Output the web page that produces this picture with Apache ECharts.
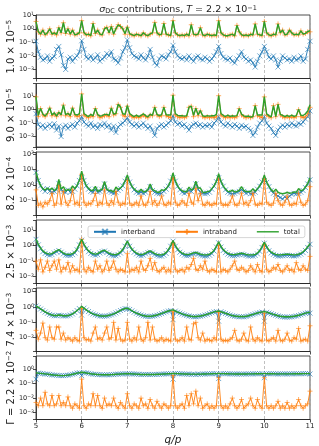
<!DOCTYPE html>
<html><head><meta charset="utf-8">
<script src="https://cdn.jsdelivr.net/npm/echarts@6/dist/echarts.min.js"></script>
<style>html,body{margin:0;padding:0;background:#fff}#c{width:319px;height:446px}</style>
</head><body><div id="c"></div>
<script>
// x positions q/p
const qp = [5.00,5.05,5.10,5.15,5.20,5.25,5.30,5.35,5.40,5.45,5.50,5.55,5.60,5.65,5.70,5.75,5.80,5.85,5.90,5.95,
6.00,6.05,6.10,6.15,6.20,6.25,6.30,6.35,6.40,6.45,6.50,6.55,6.60,6.65,6.70,6.75,6.80,6.85,6.90,6.95,
7.00,7.05,7.10,7.15,7.20,7.25,7.30,7.35,7.40,7.45,7.50,7.55,7.60,7.65,7.70,7.75,7.80,7.85,7.90,7.95,
8.00,8.05,8.10,8.15,8.20,8.25,8.30,8.35,8.40,8.45,8.50,8.55,8.60,8.65,8.70,8.75,8.80,8.85,8.90,8.95,
9.00,9.05,9.10,9.15,9.20,9.25,9.30,9.35,9.40,9.45,9.50,9.55,9.60,9.65,9.70,9.75,9.80,9.85,9.90,9.95,
10.00,10.05,10.10,10.15,10.20,10.25,10.30,10.35,10.40,10.45,10.50,10.55,10.60,10.65,10.70,10.75,10.80,10.85,10.90,10.95,
11.00];
const xTicks = [5,6,7,8,9,10,11];
const seriesNames = ['interband','intraband','total'];
const gammaMant = ['1.0 × 10','9.0 × 10','8.2 × 10','2.5 × 10','7.4 × 10','Γ = 2.2 × 10'];
const gammaExp = ['−5','−5','−4','−3','−3','−2'];

// Panel 1: Γ = 1.0e-5
const inter1 = [0.12,0.02,0.008,0.005,0.006,0.01,0.004,0.007,0.009,0.03,0.05,0.012,0.002,0.001,0.006,0.008,0.004,0.007,0.01,0.02,
0.13,0.03,0.008,0.006,0.01,0.005,0.007,0.012,0.004,0.006,0.008,0.015,0.01,0.02,0.006,0.005,0.003,0.007,0.02,0.04,
0.15,0.04,0.015,0.01,0.008,0.006,0.012,0.007,0.005,0.01,0.03,0.008,0.003,0.002,0.006,0.01,0.008,0.006,0.012,0.02,
0.06,0.02,0.01,0.007,0.006,0.008,0.005,0.01,0.006,0.004,0.008,0.01,0.006,0.005,0.008,0.006,0.004,0.006,0.01,0.02,
0.05,0.015,0.008,0.006,0.005,0.007,0.004,0.003,0.006,0.01,0.02,0.008,0.006,0.004,0.005,0.003,0.0015,0.004,0.01,0.02,
0.05,0.02,0.008,0.006,0.01,0.005,0.0015,0.004,0.01,0.007,0.005,0.006,0.004,0.008,0.005,0.006,0.01,0.004,0.006,0.03,
0.12];
const intra1 = [3.5,0.6,0.4,0.8,0.35,0.5,1.0,0.4,0.5,0.35,1.2,0.5,2.8,0.45,1.0,0.4,0.8,0.35,0.4,0.5,
4.0,0.5,0.35,0.4,0.3,2.5,0.45,0.8,0.4,0.35,1.0,1.3,0.5,1.5,0.4,1.0,2.0,1.5,1.0,0.4,
1.3,0.4,0.35,0.3,0.4,0.35,0.3,0.5,0.35,0.3,0.4,0.5,3.0,0.5,0.35,0.4,2.5,0.4,0.35,0.3,
4.0,0.5,0.35,0.3,0.35,0.3,0.4,0.3,2.0,0.4,0.35,0.4,1.2,0.35,0.3,0.4,0.35,0.3,0.35,0.3,
4.0,0.5,0.35,0.3,0.3,0.35,0.4,0.3,1.8,0.6,0.35,0.3,0.35,0.3,0.4,0.35,2.3,0.4,0.35,0.3,
3.5,0.5,0.35,0.3,0.4,0.35,2.3,0.5,0.8,0.35,0.4,0.8,0.5,0.35,0.4,0.35,0.7,0.4,0.45,0.6,
0.6];
const total1 = [3.6,0.62,0.41,0.81,0.36,0.51,1.0,0.41,0.51,0.38,1.25,0.51,2.8,0.45,1.0,0.41,0.8,0.36,0.41,0.52,
4.1,0.53,0.36,0.41,0.31,2.5,0.46,0.81,0.4,0.36,1.0,1.3,0.51,1.5,0.41,1.0,2.0,1.5,1.0,0.44,
1.45,0.44,0.37,0.31,0.41,0.36,0.31,0.51,0.36,0.31,0.43,0.51,3.0,0.5,0.36,0.41,2.5,0.41,0.36,0.32,
4.1,0.52,0.36,0.31,0.36,0.31,0.41,0.31,2.0,0.4,0.36,0.41,1.2,0.36,0.31,0.41,0.35,0.31,0.36,0.32,
4.0,0.52,0.36,0.31,0.31,0.36,0.4,0.3,1.8,0.61,0.37,0.31,0.36,0.3,0.4,0.35,2.3,0.4,0.36,0.32,
3.6,0.52,0.36,0.31,0.41,0.36,2.3,0.5,0.81,0.36,0.41,0.81,0.5,0.36,0.41,0.36,0.71,0.4,0.46,0.63,
0.72];

// Panel 2: Γ = 9.0e-5
const inter2 = [0.5,0.08,0.05,0.07,0.04,0.06,0.08,0.05,0.09,0.03,0.06,0.01,0.05,0.07,0.04,0.06,0.08,0.05,0.1,0.15,
0.3,0.12,0.08,0.06,0.1,0.05,0.07,0.04,0.08,0.06,0.1,0.05,0.07,0.03,0.06,0.02,0.05,0.08,0.1,0.15,
0.25,0.12,0.08,0.06,0.09,0.05,0.07,0.1,0.06,0.04,0.06,0.03,0.012,0.04,0.06,0.08,0.05,0.07,0.1,0.15,
0.35,0.12,0.08,0.1,0.06,0.08,0.05,0.03,0.06,0.08,0.1,0.06,0.08,0.05,0.07,0.06,0.08,0.05,0.1,0.15,
0.3,0.12,0.08,0.06,0.1,0.07,0.05,0.08,0.06,0.04,0.07,0.05,0.06,0.04,0.03,0.012,0.02,0.05,0.1,0.15,
0.3,0.1,0.06,0.04,0.02,0.012,0.03,0.05,0.07,0.05,0.08,0.06,0.1,0.07,0.06,0.1,0.08,0.12,0.2,0.3,
0.8];
const intra2 = [9.0,0.3,1.2,0.4,0.3,0.5,1.3,0.35,0.5,0.3,0.6,0.4,2.2,0.35,0.5,0.3,1.3,0.4,0.3,0.35,
15,0.4,0.3,0.25,0.35,0.3,1.2,0.4,0.25,0.3,0.35,0.4,0.3,1.3,0.4,0.5,2.5,1.5,0.4,0.3,
1.8,0.4,0.3,0.25,0.3,0.25,0.3,0.4,0.3,0.25,0.4,0.35,1.5,0.4,0.3,0.35,1.5,0.35,0.3,0.25,
12,0.4,0.3,0.25,0.3,0.25,0.3,1.5,1.8,0.3,1.2,0.35,0.8,0.3,0.25,0.3,0.25,0.3,0.25,0.3,
11,0.4,0.3,0.25,0.3,0.25,0.3,0.25,0.3,1.2,0.4,0.3,0.25,0.3,0.25,0.3,2.0,0.35,0.3,0.25,
9.0,0.4,0.3,0.25,2.0,0.3,2.5,0.4,0.3,0.25,0.3,0.25,0.3,0.25,0.3,1.0,0.3,0.25,0.3,0.5,
1.5];
const total2 = [9.5,0.38,1.25,0.47,0.34,0.56,1.38,0.4,0.59,0.33,0.66,0.41,2.25,0.42,0.54,0.36,1.38,0.45,0.4,0.5,
15.3,0.52,0.38,0.31,0.45,0.35,1.27,0.44,0.33,0.36,0.45,0.45,0.37,1.33,0.46,0.52,2.55,1.58,0.5,0.45,
2.05,0.52,0.38,0.31,0.39,0.3,0.37,0.5,0.36,0.29,0.46,0.38,1.51,0.44,0.36,0.43,1.55,0.42,0.4,0.4,
12.3,0.52,0.38,0.35,0.36,0.33,0.35,1.53,1.86,0.38,1.3,0.41,0.88,0.35,0.32,0.36,0.33,0.35,0.35,0.45,
11.3,0.52,0.38,0.31,0.4,0.32,0.35,0.33,0.36,1.24,0.47,0.35,0.31,0.34,0.28,0.31,2.02,0.4,0.4,0.4,
9.3,0.5,0.36,0.29,2.02,0.31,2.53,0.45,0.37,0.3,0.38,0.31,0.4,0.32,0.36,1.1,0.38,0.37,0.5,0.8,
2.3];

// Panel 3: Γ = 8.2e-4
const inter3 = [6.5,2.0,0.9,0.55,0.4,0.6,0.4,0.35,0.4,0.5,1.3,0.5,0.4,0.35,0.5,0.35,0.4,0.55,0.9,2.0,
3.0,2.0,0.9,0.55,0.4,0.35,0.55,0.35,0.4,0.5,1.2,0.5,0.4,0.35,0.3,0.35,0.45,0.6,0.9,1.8,
2.5,1.6,0.8,0.5,0.35,0.3,0.35,0.3,0.35,0.45,0.8,0.45,0.35,0.3,0.28,0.3,0.4,0.55,0.85,1.8,
3.0,1.8,0.85,0.5,0.35,0.3,0.35,0.45,0.4,0.55,1.2,0.55,0.35,0.3,0.28,0.3,0.35,0.55,0.85,1.7,
3.0,1.7,0.85,0.5,0.35,0.3,0.28,0.3,0.35,0.4,0.5,0.4,0.3,0.35,0.28,0.3,0.35,0.55,0.85,1.6,
2.0,1.5,0.8,0.45,0.3,0.25,0.2,0.16,0.13,0.18,0.13,0.2,0.26,0.3,0.28,0.3,0.35,0.45,0.7,1.2,
2.2];
const intra3 = [0.5,0.05,0.07,0.04,0.08,0.06,0.1,0.3,0.05,0.07,1.0,0.06,0.4,0.08,0.05,0.1,0.5,0.06,0.08,0.05,
5.0,0.08,0.05,0.07,0.06,0.1,0.3,0.05,0.08,0.06,0.5,0.07,0.05,0.1,0.06,0.4,0.08,0.05,0.07,0.06,
2.0,0.07,0.05,0.06,0.08,0.05,0.2,0.06,0.05,0.08,0.4,0.06,0.1,0.05,0.07,0.2,0.06,0.05,0.08,0.06,
3.0,0.08,0.05,0.06,0.1,0.07,0.05,0.3,0.08,0.06,0.6,0.1,0.3,0.06,0.05,0.08,0.06,0.05,0.07,0.06,
2.5,0.07,0.05,0.06,0.05,0.08,0.2,0.06,0.05,0.07,0.3,0.06,0.08,0.05,0.1,0.3,0.06,0.05,0.07,0.06,
2.5,0.08,0.06,0.05,0.07,0.3,0.1,0.06,0.05,0.08,0.2,0.06,0.05,0.07,0.06,0.3,0.08,0.05,0.06,0.1,
0.8];
const total3 = [7.0,2.05,0.97,0.59,0.48,0.66,0.5,0.65,0.45,0.57,2.3,0.56,0.8,0.43,0.55,0.45,0.9,0.61,0.98,2.05,
8.0,2.08,0.95,0.62,0.46,0.45,0.85,0.4,0.48,0.56,1.7,0.57,0.45,0.45,0.36,0.75,0.53,0.65,0.97,1.86,
4.5,1.67,0.85,0.56,0.43,0.35,0.55,0.36,0.4,0.53,1.2,0.51,0.45,0.35,0.35,0.5,0.46,0.6,0.93,1.86,
6.0,1.88,0.9,0.56,0.45,0.37,0.4,0.75,0.48,0.61,1.8,0.65,0.65,0.36,0.33,0.38,0.41,0.6,0.92,1.76,
5.5,1.77,0.9,0.56,0.4,0.38,0.48,0.36,0.4,0.47,0.8,0.46,0.38,0.4,0.38,0.6,0.41,0.6,0.92,1.66,
4.5,1.58,0.86,0.5,0.37,0.55,0.35,0.3,0.28,0.3,0.35,0.3,0.32,0.37,0.34,0.6,0.43,0.5,0.76,1.3,
3.0];

// Panel 4: Γ = 2.5e-3
const inter4 = [2.5,1.1,0.62,0.4,0.31,0.26,0.24,0.26,0.33,0.4,0.48,0.37,0.29,0.24,0.23,0.23,0.26,0.33,0.53,1.1,
2.2,1.1,0.62,0.4,0.31,0.26,0.24,0.26,0.33,0.4,0.44,0.35,0.28,0.24,0.22,0.22,0.26,0.33,0.48,0.9,
1.7,0.9,0.53,0.37,0.29,0.24,0.22,0.24,0.29,0.35,0.38,0.33,0.26,0.23,0.21,0.21,0.24,0.31,0.48,0.9,
1.9,0.9,0.53,0.37,0.29,0.24,0.22,0.23,0.26,0.29,0.31,0.28,0.24,0.22,0.21,0.21,0.24,0.3,0.44,0.8,
1.5,0.8,0.48,0.35,0.28,0.24,0.22,0.22,0.24,0.26,0.28,0.26,0.23,0.21,0.21,0.21,0.23,0.29,0.42,0.75,
1.4,0.75,0.46,0.33,0.27,0.23,0.21,0.21,0.22,0.23,0.24,0.23,0.22,0.21,0.22,0.24,0.28,0.35,0.48,0.75,
1.2];
const intra4 = [0.1,0.03,0.12,0.02,0.04,0.1,0.025,0.05,0.1,0.03,0.12,0.02,0.04,0.03,0.08,0.02,0.05,0.025,0.03,0.02,
2.5,0.03,0.02,0.04,0.025,0.02,0.1,0.03,0.05,0.02,0.03,0.1,0.025,0.04,0.1,0.03,0.02,0.03,0.025,0.02,
0.3,0.02,0.03,0.025,0.04,0.02,0.1,0.03,0.025,0.05,0.15,0.03,0.08,0.025,0.02,0.03,0.04,0.02,0.03,0.02,
1.5,0.03,0.02,0.025,0.03,0.02,0.04,0.03,0.06,0.15,0.03,0.025,0.05,0.03,0.1,0.025,0.02,0.03,0.025,0.02,
1.0,0.02,0.03,0.025,0.02,0.03,0.05,0.1,0.03,0.025,0.04,0.03,0.02,0.025,0.05,0.03,0.02,0.06,0.025,0.02,
1.2,0.03,0.02,0.025,0.04,0.03,0.06,0.025,0.02,0.03,0.05,0.025,0.03,0.02,0.08,0.03,0.025,0.05,0.03,0.025,
0.2];
const total4 = [2.6,1.2,0.7,0.45,0.35,0.3,0.28,0.3,0.38,0.45,0.55,0.42,0.33,0.28,0.27,0.27,0.3,0.38,0.6,1.2,
2.5,1.2,0.7,0.45,0.35,0.3,0.28,0.3,0.38,0.45,0.5,0.4,0.32,0.28,0.26,0.26,0.3,0.38,0.55,1.0,
1.9,1.0,0.6,0.42,0.33,0.28,0.26,0.28,0.33,0.4,0.45,0.38,0.3,0.27,0.25,0.25,0.28,0.36,0.55,1.0,
2.1,1.0,0.6,0.42,0.33,0.28,0.26,0.27,0.3,0.34,0.36,0.32,0.28,0.26,0.25,0.25,0.28,0.35,0.5,0.9,
1.7,0.9,0.55,0.4,0.32,0.28,0.26,0.26,0.28,0.3,0.32,0.3,0.27,0.25,0.25,0.25,0.27,0.33,0.48,0.85,
1.6,0.85,0.52,0.38,0.31,0.27,0.25,0.25,0.26,0.27,0.28,0.27,0.26,0.25,0.26,0.28,0.32,0.4,0.55,0.85,
1.3];

// Panel 5: Γ = 7.4e-3
const inter5 = [1.15,0.94,0.74,0.59,0.47,0.39,0.33,0.29,0.27,0.27,0.29,0.28,0.26,0.26,0.27,0.3,0.35,0.44,0.59,0.79,
0.3,0.84,0.64,0.51,0.41,0.35,0.31,0.28,0.26,0.25,0.25,0.26,0.28,0.31,0.35,0.41,0.49,0.59,0.69,0.79,
0.75,0.69,0.56,0.46,0.39,0.34,0.3,0.27,0.25,0.24,0.24,0.25,0.27,0.29,0.33,0.37,0.42,0.48,0.54,0.59,
0.15,0.54,0.46,0.4,0.35,0.31,0.28,0.26,0.24,0.23,0.23,0.24,0.25,0.27,0.3,0.33,0.37,0.42,0.47,0.51,
0.12,0.49,0.43,0.38,0.34,0.3,0.27,0.25,0.24,0.23,0.23,0.23,0.24,0.26,0.29,0.32,0.36,0.4,0.44,0.47,
0.12,0.45,0.4,0.36,0.32,0.29,0.26,0.24,0.23,0.22,0.22,0.22,0.23,0.24,0.26,0.28,0.31,0.35,0.39,0.42,
0.4];
const intra5 = [0.03,0.008,0.02,0.09,0.01,0.007,0.05,0.01,0.008,0.05,0.05,0.008,0.02,0.007,0.01,0.008,0.006,0.01,0.007,0.006,
0.8,0.01,0.007,0.008,0.006,0.02,0.05,0.008,0.01,0.007,0.02,0.05,0.008,0.01,0.1,0.007,0.04,0.008,0.006,0.007,
0.1,0.008,0.006,0.01,0.007,0.05,0.008,0.006,0.01,0.1,0.007,0.05,0.008,0.006,0.007,0.01,0.006,0.008,0.007,0.006,
0.5,0.008,0.006,0.007,0.01,0.006,0.05,0.008,0.007,0.08,0.1,0.01,0.007,0.02,0.006,0.008,0.007,0.006,0.01,0.007,
0.45,0.008,0.006,0.007,0.006,0.008,0.01,0.03,0.007,0.006,0.008,0.02,0.007,0.006,0.05,0.008,0.006,0.01,0.007,0.006,
0.4,0.007,0.006,0.008,0.01,0.006,0.03,0.007,0.006,0.008,0.02,0.007,0.006,0.01,0.008,0.04,0.006,0.007,0.008,0.006,
0.06];
const total5 = [1.2,0.95,0.75,0.6,0.48,0.4,0.34,0.3,0.28,0.28,0.3,0.29,0.27,0.27,0.28,0.31,0.36,0.45,0.6,0.8,
1.1,0.85,0.65,0.52,0.42,0.36,0.32,0.29,0.27,0.26,0.26,0.27,0.29,0.32,0.36,0.42,0.5,0.6,0.7,0.8,
0.85,0.7,0.57,0.47,0.4,0.35,0.31,0.28,0.26,0.25,0.25,0.26,0.28,0.3,0.34,0.38,0.43,0.49,0.55,0.6,
0.65,0.55,0.47,0.41,0.36,0.32,0.29,0.27,0.25,0.24,0.24,0.25,0.26,0.28,0.31,0.34,0.38,0.43,0.48,0.52,
0.55,0.5,0.44,0.39,0.35,0.31,0.28,0.26,0.25,0.24,0.24,0.24,0.25,0.27,0.3,0.33,0.37,0.41,0.45,0.48,
0.5,0.46,0.41,0.37,0.33,0.3,0.27,0.25,0.24,0.23,0.23,0.23,0.24,0.25,0.27,0.29,0.32,0.36,0.4,0.43,
0.45];

// Panel 6: Γ = 2.2e-2
const inter6 = [0.2,0.52,0.49,0.48,0.44,0.44,0.42,0.39,0.38,0.37,0.35,0.35,0.35,0.36,0.37,0.4,0.43,0.47,0.52,0.56,
0.35,0.57,0.53,0.5,0.47,0.43,0.43,0.41,0.41,0.4,0.39,0.4,0.4,0.41,0.41,0.43,0.44,0.45,0.46,0.47,
0.45,0.47,0.46,0.45,0.44,0.43,0.41,0.42,0.42,0.42,0.41,0.42,0.42,0.42,0.43,0.44,0.45,0.46,0.47,0.48,
0.2,0.49,0.48,0.47,0.46,0.45,0.44,0.44,0.42,0.44,0.41,0.44,0.43,0.45,0.45,0.46,0.46,0.47,0.48,0.48,
0.22,0.48,0.48,0.47,0.47,0.46,0.45,0.45,0.45,0.45,0.44,0.45,0.45,0.46,0.45,0.46,0.47,0.46,0.47,0.48,
0.25,0.48,0.47,0.47,0.47,0.46,0.45,0.46,0.46,0.46,0.45,0.46,0.46,0.47,0.47,0.46,0.47,0.48,0.48,0.48,
0.45];
const intra6 = [0.005,0.003,0.01,0.003,0.025,0.004,0.003,0.015,0.003,0.004,0.015,0.003,0.005,0.003,0.012,0.003,0.002,0.004,0.003,0.002,
0.2,0.003,0.002,0.004,0.003,0.02,0.003,0.015,0.003,0.002,0.01,0.003,0.004,0.003,0.01,0.003,0.002,0.005,0.003,0.002,
0.02,0.003,0.002,0.004,0.003,0.002,0.01,0.003,0.004,0.002,0.008,0.003,0.002,0.006,0.003,0.002,0.004,0.003,0.002,0.003,
0.35,0.003,0.002,0.003,0.004,0.002,0.015,0.003,0.02,0.004,0.03,0.003,0.01,0.002,0.003,0.004,0.002,0.003,0.002,0.003,
0.25,0.003,0.002,0.003,0.002,0.004,0.01,0.003,0.002,0.003,0.008,0.002,0.003,0.004,0.01,0.003,0.002,0.008,0.003,0.002,
0.25,0.003,0.002,0.003,0.002,0.003,0.006,0.002,0.003,0.002,0.005,0.002,0.003,0.002,0.003,0.008,0.003,0.002,0.003,0.004,
0.03];
const total6 = [0.55,0.52,0.5,0.48,0.46,0.44,0.42,0.4,0.38,0.37,0.36,0.35,0.35,0.36,0.38,0.4,0.43,0.47,0.52,0.56,
0.6,0.57,0.53,0.5,0.47,0.45,0.43,0.42,0.41,0.4,0.4,0.4,0.4,0.41,0.42,0.43,0.44,0.45,0.46,0.47,
0.48,0.47,0.46,0.45,0.44,0.43,0.42,0.42,0.42,0.42,0.42,0.42,0.42,0.43,0.43,0.44,0.45,0.46,0.47,0.48,
0.5,0.49,0.48,0.47,0.46,0.45,0.45,0.44,0.44,0.44,0.44,0.44,0.44,0.45,0.45,0.46,0.46,0.47,0.48,0.48,
0.49,0.48,0.48,0.47,0.47,0.46,0.46,0.45,0.45,0.45,0.45,0.45,0.45,0.46,0.46,0.46,0.47,0.47,0.47,0.48,
0.48,0.48,0.47,0.47,0.47,0.46,0.46,0.46,0.46,0.46,0.46,0.46,0.46,0.47,0.47,0.47,0.47,0.48,0.48,0.48,
0.48];

const panels = [[inter1,intra1,total1],[inter2,intra2,total2],[inter3,intra3,total3],
                [inter4,intra4,total4],[inter5,intra5,total5],[inter6,intra6,total6]];
// y extents as log10 exponents [min,max]
const yExp = [[-3.67,1.02],[-2.78,1.95],[-1.95,2.13],[-2.44,1.64],[-2.9,1.24],[-3.47,0.89]];
const tops = [15,83.5,152,220,288,356];
const H = 63.5;

const C = ['#1f77b4','#ff7f0e','#2ca02c'];
const xSym = 'path://M0,0L10,10M10,0L0,10';
const pSym = 'path://M5,0L5,10M0,5L10,5';

const chart = echarts.init(document.getElementById('c'), null, {renderer:'canvas'});
const FF = 'DejaVu Sans';
function yFmt(v){
  const l = Math.log10(v); const e = Math.round(l);
  if (Math.abs(l-e) > 1e-6) return '';
  return '{b|10}{s|' + (e<0 ? '−'+(-e) : ''+e) + '}';
}
const grids=[], xAxes=[], yAxes=[], series=[];
for (let p=0;p<6;p++){
  grids.push({left:36, right:9, top:tops[p], height:H, show:true, borderColor:'#222', borderWidth:0.8, containLabel:false, outerBoundsMode:'none'});
  xAxes.push({type:'value', gridIndex:p, min:5, max:11, interval:1,
    axisLine:{show:true, lineStyle:{color:'#222', width:0.8}},
    axisTick:{show:true, length:3, lineStyle:{color:'#222', width:0.8}},
    axisLabel:{show:p===5, fontSize:7, color:'#222', margin:3, fontFamily:FF},
    splitLine:{show:true, lineStyle:{color:'#b0b0b0', width:0.8, type:[3,2]}},
    name: p===5 ? 'q/p' : '', nameLocation:'middle', nameGap:15, nameMoveOverlap:false,
    nameTextStyle:{fontSize:10.5, fontStyle:'italic', color:'#222', fontFamily:FF}
  });
  yAxes.push({type:'log', logBase:10, gridIndex:p, min:Math.pow(10,yExp[p][0]), max:Math.pow(10,yExp[p][1]),
    axisLine:{show:true, lineStyle:{color:'#222', width:0.8}},
    axisTick:{show:true, length:3, lineStyle:{color:'#222', width:0.8}},
    axisLabel:{formatter:yFmt, margin:2, color:'#222', fontFamily:FF,
      rich:{b:{fontSize:6.5, color:'#222', fontFamily:FF}, s:{fontSize:4.6, verticalAlign:'top', color:'#222', fontFamily:FF}}},
    splitLine:{show:false},
    name: gammaMant[p] + '{s|' + gammaExp[p] + '}', nameLocation:'middle', nameGap:20, nameRotate:90, nameMoveOverlap:false,
    nameTextStyle:{fontSize:10, color:'#222', fontFamily:FF,
      rich:{s:{fontSize:7, verticalAlign:'top', color:'#222', fontFamily:FF}}}
  });
  for (let s=0;s<3;s++){
    const vals = panels[p][s];
    const base = {name:seriesNames[s], type:'line', xAxisIndex:p, yAxisIndex:p,
      data: qp.map((x,i)=>[x, vals[i]]), animation:false, z: 2+s};
    if (s===2){
      Object.assign(base, {symbol:'none', lineStyle:{color:C[2], width:1.4}, itemStyle:{color:C[2]}});
    } else {
      Object.assign(base, {symbol: s===0 ? xSym : pSym, symbolSize: 5, showSymbol:true,
        lineStyle:{color:C[s], width:0.9},
        itemStyle:{color:C[s], borderColor:C[s], borderWidth:0.9, opacity:0.7}});
    }
    series.push(base);
  }
}
chart.setOption({
  animation:false,
  textStyle:{fontFamily:FF},
  title:{text:'{i|σ}{sub|DC} contributions, {i|T} = 2.2 × 10{sup|−1}', left:173, textAlign:'center', top:0,
    textStyle:{fontSize:9.5, fontWeight:'normal', color:'#222', fontFamily:FF,
      rich:{i:{fontStyle:'italic', fontSize:9.5, color:'#222', fontFamily:FF},
            sub:{fontSize:6.5, verticalAlign:'bottom', color:'#222', fontFamily:FF},
            sup:{fontSize:6.5, verticalAlign:'top', color:'#222', fontFamily:FF}}}},
  legend:{data:[{name:'interband'},{name:'intraband'},{name:'total', icon:'path://M0,0H22V1.4H0Z'}],
    left:88, top:226, itemWidth:22, itemHeight:7, itemGap:20,
    padding:[2,5], borderColor:'#ccc', borderWidth:0.8, borderRadius:2, backgroundColor:'rgba(255,255,255,0.85)',
    textStyle:{fontSize:7, color:'#222', fontFamily:FF}},
  grid:grids, xAxis:xAxes, yAxis:yAxes, series:series
});
</script></body></html>
